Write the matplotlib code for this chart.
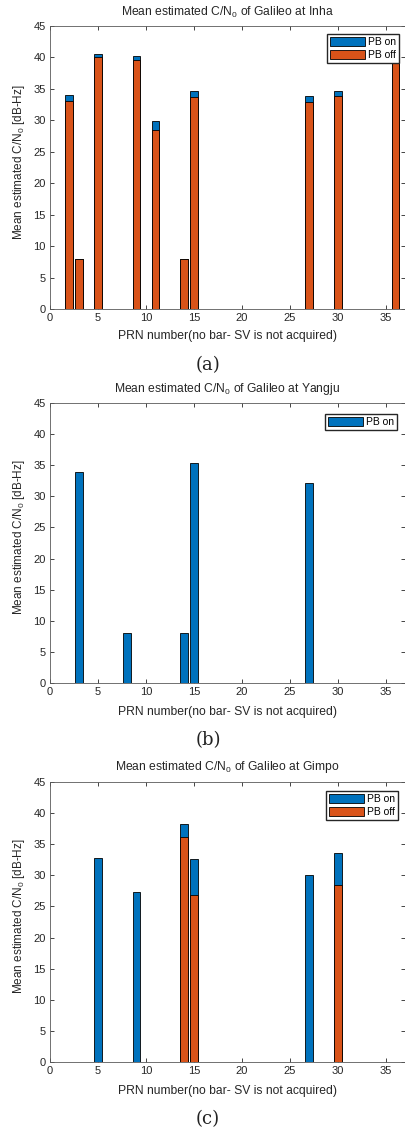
import matplotlib
matplotlib.use("Agg")
import matplotlib.pyplot as plt
import numpy as np

plt.rcParams['font.family'] = ['Liberation Sans', 'DejaVu Sans']
plt.rcParams['mathtext.fontset'] = 'custom'
plt.rcParams['mathtext.rm'] = 'Liberation Sans'
plt.rcParams['mathtext.default'] = 'regular'

# ---- data ----
all_prn = list(range(1, 37))

inha_prn = [2, 3, 5, 9, 11, 14, 15, 27, 30, 36]
inha_on = [34.0, 8.0, 40.6, 40.2, 29.9, 8.0, 34.6, 33.9, 34.7, 40.6]
inha_off = [33.1, 8.0, 40.0, 39.6, 28.5, 8.0, 33.7, 32.9, 33.8, 40.0]

yangju_prn = [3, 8, 14, 15, 27]
yangju_on = [33.9, 8.0, 8.0, 35.4, 32.2]

gimpo_prn = [5, 9, 14, 15, 27, 30]
gimpo_on = [32.8, 27.3, 38.2, 32.6, 30.1, 33.6]
gimpo_off = [0.0, 0.0, 36.2, 26.8, 0.0, 28.5]

sites = ["Inha", "Yangju", "Gimpo"]
captions = ["(a)", "(b)", "(c)"]
xticks = [0, 5, 10, 15, 20, 25, 30, 35]
yticks = [0, 5, 10, 15, 20, 25, 30, 35, 40, 45]

BLUE = '#0072BD'
ORANGE = '#D95319'
AXC = '#262626'

W, H = 406, 1129
fig = plt.figure(figsize=(W / 100, H / 100), dpi=100)


def full(prn, vals):
    d = dict(zip(prn, vals))
    return [d.get(p, 0.0) for p in all_prn]


# pixel layout: (axes top, axes bottom, title y, xlabel y, caption y)
layout = [
    (26, 309, 12, 336, 365),
    (403, 683, 389, 712, 740),
    (782, 1062, 767, 1091, 1119),
]
panels = [
    (inha_prn, inha_on, inha_off),
    (yangju_prn, yangju_on, None),
    (gimpo_prn, gimpo_on, gimpo_off),
]
legend_tr = [(399, 34), (397, 414), (398, 791)]

left_px, right_px = 50, 405
for i, ((top, bot, ty, xly, cy), (prn, on, off)) in enumerate(zip(layout, panels)):
    ax = fig.add_axes([left_px / W, (H - bot) / H, (right_px - left_px) / W, (bot - top) / H])
    h_on = ax.bar(all_prn, full(prn, on), width=0.8, color=BLUE, edgecolor='black',
                  linewidth=0.6, label='PB on', zorder=2)
    handles = [h_on]
    if off is not None:
        h_off = ax.bar(all_prn, full(prn, off), width=0.8, color=ORANGE, edgecolor='black',
                       linewidth=0.6, label='PB off', zorder=3)
        handles.append(h_off)
    ax.set_xlim(0, 37)
    ax.set_ylim(0, 45)
    ax.set_xticks(xticks)
    ax.set_yticks(yticks)
    ax.tick_params(direction='in', length=3, width=0.6, colors=AXC, labelsize=8,
                   top=True, right=True, pad=3)
    for s in ax.spines.values():
        s.set_color('#5a5a5a')
        s.set_linewidth(0.6)
    ax.set_ylabel('Mean estimated C/N$_0$ [dB-Hz]', fontsize=8.5, color=AXC, labelpad=3)
    ax.yaxis.set_label_coords(-0.064, 0.52)
    lx, ly = legend_tr[i]
    ax.legend(handles=handles, loc='upper right',
              bbox_to_anchor=((lx - left_px) / (right_px - left_px), (bot - ly) / (bot - top)),
              fontsize=7.5, frameon=True, fancybox=False, edgecolor=AXC, framealpha=1,
              handlelength=3.4, handleheight=1.0, handletextpad=0.25, labelspacing=0.25,
              borderpad=0.3, borderaxespad=0)
    cx = (left_px + right_px) / 2 / W
    fig.text(cx, 1 - ty / H, 'Mean estimated C/N$_0$ of Galileo at ' + sites[i],
             ha='center', va='center', fontsize=8.7, color=AXC)
    fig.text(cx, 1 - xly / H, 'PRN number(no bar- SV is not acquired)',
             ha='center', va='center', fontsize=8.7, color=AXC)
    fig.text(208 / W, 1 - cy / H, captions[i], ha='center', va='center', fontsize=13,
             family=['DejaVu Serif'], color='#222222')

fig.savefig('out.png', dpi=100)
